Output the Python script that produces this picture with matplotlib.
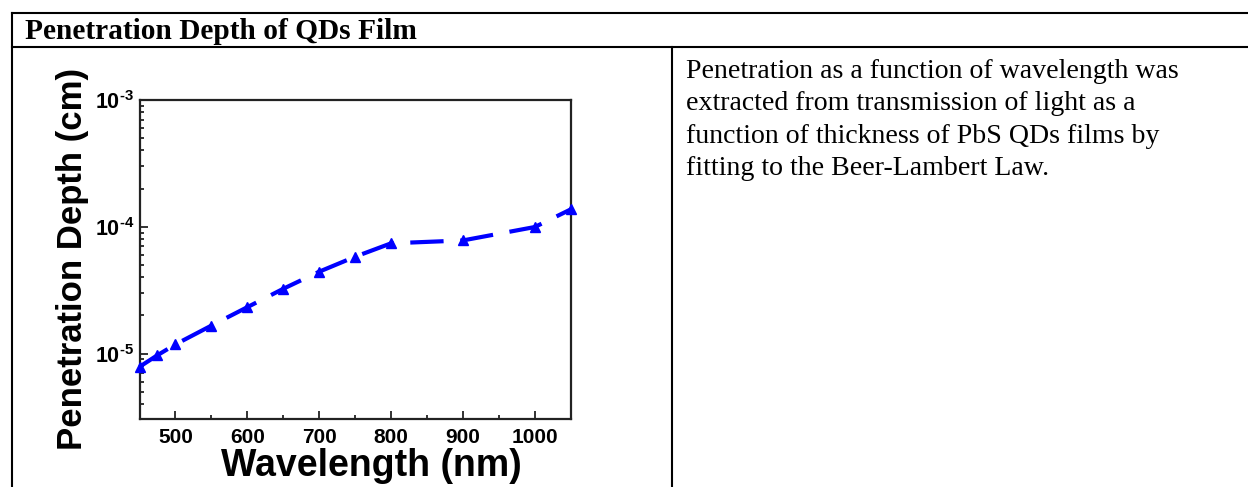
import matplotlib
matplotlib.use("Agg")
import matplotlib.pyplot as plt
from matplotlib.lines import Line2D
from matplotlib.ticker import FixedLocator, LogLocator, NullFormatter, FuncFormatter
import numpy as np

plt.rcParams['mathtext.fontset'] = 'custom'
plt.rcParams['mathtext.rm'] = 'Liberation Sans:bold'
plt.rcParams['mathtext.bf'] = 'Liberation Sans:bold'

# ---- data ----
wavelength_nm = [450, 475, 500, 550, 600, 650, 700, 750, 800, 900, 1000, 1050]
penetration_cm = [7.85e-6, 9.7e-6, 1.18e-5, 1.66e-5, 2.32e-5, 3.24e-5,
                  4.42e-5, 5.8e-5, 7.4e-5, 7.8e-5, 9.95e-5, 1.37e-4]
x_ticks = [500, 600, 700, 800, 900, 1000]
title_text = "Penetration Depth of QDs Film"
body_lines = ["Penetration as a function of wavelength was",
              "extracted from transmission of light as a",
              "function of thickness of PbS QDs films by",
              "fitting to the Beer-Lambert Law."]
x_label = "Wavelength (nm)"
y_label = "Penetration Depth (cm)"

W, H = 1248, 487
fig = plt.figure(figsize=(W / 100, H / 100), dpi=100)

def fx(px):
    return px / W

def fy(py):
    return 1 - py / H

# table borders
lw_tab = 1.5
fig.add_artist(Line2D([fx(12), fx(1248)], [fy(12.7), fy(12.7)], color='black', lw=lw_tab))
fig.add_artist(Line2D([fx(12), fx(1248)], [fy(47), fy(47)], color='black', lw=lw_tab))
fig.add_artist(Line2D([fx(12), fx(12)], [fy(12.7), fy(487)], color='black', lw=lw_tab))
fig.add_artist(Line2D([fx(671.7), fx(671.7)], [fy(47), fy(487)], color='black', lw=lw_tab))

fig.text(fx(25), fy(39), title_text, fontsize=21.2, fontweight='bold',
         family='Liberation Serif', va='baseline', ha='left')
for i, line in enumerate(body_lines):
    fig.text(fx(686), fy(78 + 32.3 * i), line, fontsize=20.1,
             family='Liberation Serif', va='baseline', ha='left')

# axes
ax = fig.add_axes([fx(139.5), fy(418.7), fx(570.7) - fx(139.5), fy(100) - fy(418.7)])
ax.plot(wavelength_nm, penetration_cm, color='#0000ff', lw=3, ls=(0, (8, 4)),
        marker='^', markersize=7, clip_on=False, zorder=3)
ax.set_yscale('log')
ax.set_xlim(450, 1050)
ax.set_ylim(3.06e-6, 1e-3)
ax.xaxis.set_major_locator(FixedLocator(x_ticks))
ax.xaxis.set_minor_locator(FixedLocator(np.arange(450, 1051, 50)))
ax.yaxis.set_major_locator(LogLocator(base=10, numticks=10))
ax.yaxis.set_minor_locator(LogLocator(base=10, subs=np.arange(2, 10), numticks=20))
ax.yaxis.set_minor_formatter(NullFormatter())

def yfmt(v, pos):
    e = int(round(np.log10(v)))
    return r'$\mathbf{10}^{\text{-}%d}$' % abs(e)

ax.yaxis.set_major_formatter(FuncFormatter(yfmt))

for s in ax.spines.values():
    s.set_linewidth(1.6)
    s.set_color('#222222')
ax.tick_params(which='both', direction='in', width=1.3, colors='#222222',
               labelcolor='black', top=False, right=False)
ax.tick_params(which='major', length=6, labelsize=15)
ax.tick_params(axis='x', which='major', pad=7)
ax.tick_params(axis='y', which='major', pad=4, labelsize=15.5)
ax.tick_params(which='minor', length=3)
for lab in ax.get_xticklabels():
    lab.set_fontweight('bold')
    lab.set_family('Liberation Sans')

ax.set_xlabel(x_label, fontsize=27, fontweight='bold', family='Liberation Sans')
ax.xaxis.set_label_coords(0.537, -0.092)
ax.set_ylabel(y_label, fontsize=25, fontweight='bold', family='Liberation Sans', labelpad=4)

fig.savefig('out.png', dpi=100)
